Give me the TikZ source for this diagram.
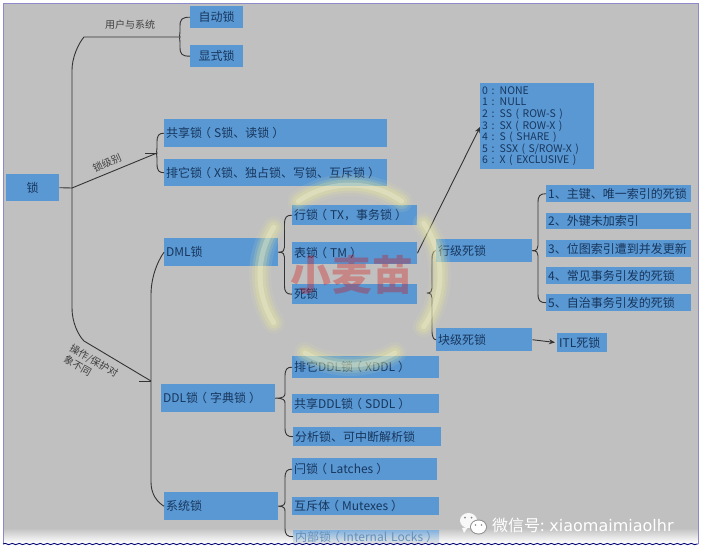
\documentclass[tikz,border=0pt]{standalone}
\usepackage{fontspec}
\setmainfont{Noto Sans CJK SC}
\newfontfamily\latinwm{DejaVu Sans}
\usetikzlibrary{decorations.pathmorphing,calc,arrows.meta}
\definecolor{boxblue}{HTML}{5A98D3}
\definecolor{inktext}{HTML}{17365D}
\definecolor{panel}{HTML}{C0C0C0}
\definecolor{framecol}{HTML}{8C8ACB}
\definecolor{linecol}{HTML}{333333}
\definecolor{glowcol}{HTML}{EFEF9A}
\newcommand{\lp}{\kern-3pt（\kern3pt}
\newcommand{\rp}{\kern3pt）\kern-3pt}
\tikzset{
  x=1pt,y=-1pt,
  box/.style={rectangle,fill=boxblue,text=inktext,anchor=north west,inner xsep=2pt,inner ysep=0pt,align=left,
    font=\fontsize{12}{14}\selectfont},
  conn/.style={draw=linecol,line width=0.9pt,line join=round},
  tag/.style={text=black!75,font=\fontsize{10}{12}\selectfont,inner sep=0pt,align=left},
  glowA/.style={draw=glowcol,line width=22pt,opacity=.10,line cap=round},
  glowB/.style={draw=glowcol,line width=16pt,opacity=.15,line cap=round},
  glowC/.style={draw=glowcol,line width=11pt,opacity=.22,line cap=round},
  glowD/.style={draw=glowcol!40!white,line width=5pt,opacity=.30,line cap=round},
  tip/.style={-{Stealth[length=6pt,width=5pt]},conn},
}
% \bx[options]{name}{x1}{y1}{x2}{y2}{text}
\newcommand{\bx}[7][]{\node[box,#1,minimum width={(#5-#3)*1pt},minimum height={(#6-#4)*1pt},text width={(#5-#3-4)*1pt}] (#2) at (#3,#4) {#7};}
% \brk{source}{spine x}{upper target}{lower target}
\newcommand{\brk}[4]{\draw[conn] let \p1=(#1),\p2=(#3),\p3=(#4) in
  (\x2,\y2) .. controls (#2pt+2pt,\y2) and (#2pt,\y2-2pt) .. (#2pt,\y2-9pt)
  -- (#2pt,\y1+5pt) .. controls (#2pt,\y1+2pt) and (#2pt-1pt,\y1) .. (\x1,\y1)
  .. controls (#2pt-1pt,\y1) and (#2pt,\y1-2pt) .. (#2pt,\y1-5pt)
  -- (#2pt,\y3+9pt) .. controls (#2pt,\y3+2pt) and (#2pt+2pt,\y3) .. (\x3,\y3);}
\newcommand{\ringarc}[2]{%
  \foreach \g in {glowA,glowB,glowC,glowD}{\draw[\g] ([shift={(350,275)}] #1:90pt) arc[start angle=#1,end angle=#2,radius=90pt];}}
\begin{document}
\begin{tikzpicture}
\useasboundingbox (0,0) rectangle (702,555);
\fill[white] (0,0) rectangle (702,555);
\fill[panel] (3,3) rectangle (698,528);
\shade[top color=panel,bottom color=white] (3,528) rectangle (698,543);
\draw[framecol,line width=1pt] (3,544) -- (3,3) -- (698,3) -- (698,544);

\bx[align=center]{root}{6}{174}{59}{201}{锁}
\bx[align=center]{auto}{190}{6}{243}{28}{自动锁}
\bx[align=center]{expl}{190}{45}{243}{67}{显式锁}
\bx{shr}{164}{119}{387}{147}{共享锁\lp S锁、读锁\rp}
\bx{exc}{164}{159}{387}{186}{排它锁\lp X锁、独占锁、写锁、互斥锁\rp}
\bx{dml}{164}{238}{278}{266}{DML锁}
\bx{ddl}{161}{384}{275}{412}{DDL锁\lp 字典锁\rp}
\bx{sys}{164}{492}{278}{520}{系统锁}
\bx{rowl}{292}{205}{417}{225}{行锁\lp TX，事务锁\rp}
\bx{tabl}{292}{242}{417}{264}{表锁\lp TM\rp}
\bx{dead}{292}{284}{417}{304}{死锁}
\bx{rowd}{436}{239}{532}{262}{行级死锁}
\bx{blkd}{436}{328}{532}{351}{块级死锁}
\bx{itl}{557}{333}{607}{352}{ITL死锁}
\bx[font=\fontsize{10.5}{11.55}\selectfont]{modes}{480}{83}{594}{169}{0 : NONE\\1 : NULL\\2 : SS ( ROW-S )\\3 : SX ( ROW-X )\\4 : S ( SHARE )\\5 : SSX ( S/ROW-X )\\6 : X ( EXCLUSIVE )}
\bx{dl1}{546}{185}{691}{202}{1、主键、唯一索引的死锁}
\bx{dl2}{546}{213}{691}{229}{2、外键未加索引}
\bx{dl3}{546}{240}{691}{257}{3、位图索引遭到并发更新}
\bx{dl4}{546}{267}{691}{284}{4、常见事务引发的死锁}
\bx{dl5}{546}{294}{691}{311}{5、自治事务引发的死锁}
\bx{xddl}{292}{356}{439}{378}{排它DDL锁\lp XDDL\rp}
\bx{sddl}{292}{394}{439}{413}{共享DDL锁\lp SDDL\rp}
\bx{pars}{293}{427}{441}{446}{分析锁、可中断解析锁}
\bx{latch}{292}{458}{437}{480}{闩锁\lp Latches\rp}
\bx{mutx}{292}{497}{439}{515}{互斥体\lp Mutexes\rp}
\bx[top color=boxblue!75!white,bottom color=panel!40!white,text=boxblue!70!gray]{intl}{293}{530}{439}{543}{内部锁\lp Internal Locks\rp}

\coordinate (hub) at (72,188);
\coordinate (userb) at (180,37);
\coordinate (lvlb) at (157,153);
\coordinate (lvlt) at (145,153);
\coordinate (opb) at (151,381);
\coordinate (opt) at (139,381);
\coordinate (deadtip) at (427,293);
\coordinate (modeshit) at (480,127);

\draw[conn] (root.east) -- (hub);
\draw[conn] (hub) -- (72,70) .. controls (72,58) and (78,44) .. (84,37) -- (userb);
\draw[conn] (hub) -- (lvlb);
\draw[conn] (lvlt) -- (lvlb);
\draw[conn] (hub) -- (72,308) .. controls (72,322) and (78,335) .. (84,341) -- (opb);
\draw[conn] (opt) -- (opb);
\draw[conn] (dml.west) .. controls (157,262) and (151,278) .. (151,295) -- (151,482) .. controls (151,494) and (157,502) .. (sys.west);
\brk{userb}{180}{auto.west}{expl.west}
\brk{lvlb}{157}{shr.west}{exc.west}
\brk{dml.east}{284.5}{rowl.west}{dead.west}
\brk{ddl.east}{285}{xddl.west}{pars.west}
\brk{sys.east}{285}{latch.west}{intl.west}
\brk{deadtip}{432}{rowd.west}{blkd.west}
\brk{rowd.east}{538}{dl1.west}{dl5.west}
\draw[tip] (tabl.east) -- (modeshit);
\draw[tip,shorten >=2pt] (blkd.east) -- (itl.west);

\node[tag] (tuser) at (130,25) {用户与系统};
\node[tag,rotate=24] (tlvl) at (107,163) {锁级别};
\node[tag,rotate=-30] (top) at (91,366) {操作/保护对\\象不同};

% watermark
\ringarc{148}{212}
\ringarc{55}{125}
\ringarc{-35}{35}
\ringarc{-120}{-60}
\node[opacity=.30,text=red!85!black,font=\fontsize{41}{41}\selectfont\bfseries,inner sep=0pt] (wmark) at (352,275) {小麦苗};

% wechat mark
\fill[white,opacity=.9] (468.5,520.5) ellipse[x radius=8.5pt,y radius=7.5pt];
\fill[white,opacity=.9] (462,528) -- (464,533) -- (468,527) -- cycle;
\fill[panel!70!black] (465,517.5) circle[radius=1pt] (471.5,517.5) circle[radius=1pt];
\fill[panel!75!black] (478.5,527) ellipse[x radius=8.5pt,y radius=7.5pt];
\fill[white] (478.5,527) ellipse[x radius=7.5pt,y radius=6.5pt];
\fill[panel!70!black] (475.5,525) circle[radius=.9pt] (481.5,525) circle[radius=.9pt];
\node[text=white,anchor=west,inner sep=0pt,font=\fontsize{16}{18}\selectfont] (wxid) at (492,525) {微信号: {\latinwm xiaomaimiaolhr}};

\draw[draw=blue!45!black,line width=.9pt,decorate,decoration={snake,amplitude=.6pt,segment length=7pt}] (3,544) -- (698,544);
\end{tikzpicture}
\end{document}
